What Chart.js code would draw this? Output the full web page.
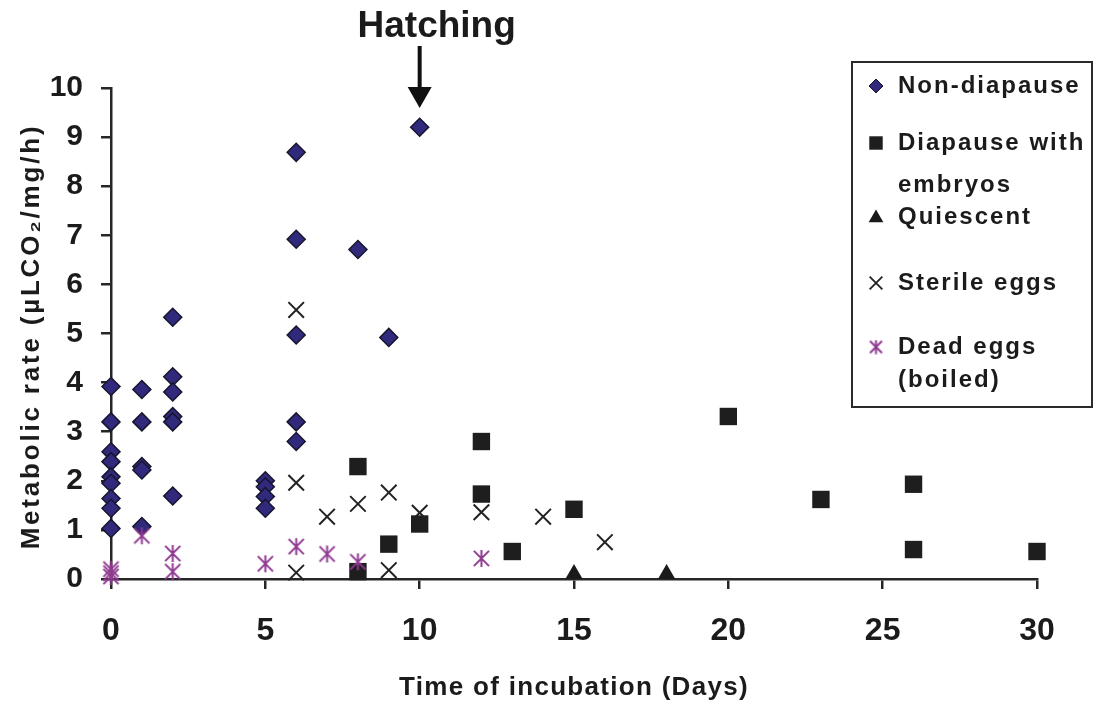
<!DOCTYPE html>
<html>
<head>
<meta charset="utf-8">
<title>Metabolic rate during incubation</title>
<script src="https://cdn.jsdelivr.net/npm/chart.js@4.4.1/dist/chart.umd.min.js"></script>
<style>
  html, body { margin: 0; padding: 0; background: #fff; }
  #wrap { width: 1094px; height: 704px; }
</style>
</head>
<body>
<div id="wrap"><canvas id="rateChart" width="1094" height="704"></canvas></div>
<script>
// incubation day (x) and metabolic rate in µL CO2 / mg / h (y) for each egg group
const nonDiapauseDays  = [0, 0, 0, 0, 0, 0, 0, 0, 0, 1, 1, 1, 1, 1, 2, 2, 2, 2, 2, 2, 5, 5, 5, 5, 6, 6, 6, 6, 6, 8, 9, 10];
const nonDiapauseRates = [3.92, 3.2, 2.59, 2.39, 2.08, 1.95, 1.64, 1.44, 1.03,
                          3.86, 3.2, 2.29, 2.22, 1.07,
                          5.33, 4.12, 3.81, 3.31, 3.2, 1.69,
                          2.0, 1.88, 1.68, 1.44,
                          8.69, 6.92, 4.97, 3.2, 2.8,
                          6.71, 4.92, 9.2];

const diapauseDays  = [8, 8, 9, 10, 12, 12, 13, 15, 20, 23, 26, 26, 30];
const diapauseRates = [2.29, 0.15, 0.71, 1.12, 2.8, 1.73, 0.56, 1.42, 3.31, 1.62, 1.93, 0.6, 0.56];

const quiescentDays  = [15, 18];
const quiescentRates = [0.1, 0.1];

const sterileDays  = [6, 6, 6, 7, 8, 9, 9, 10, 12, 14, 16];
const sterileRates = [5.48, 1.96, 0.13, 1.27, 1.53, 1.76, 0.18, 1.35, 1.36, 1.27, 0.75];

const deadDays  = [0, 0, 0, 1, 2, 2, 5, 6, 7, 8, 12];
const deadRates = [0.2, 0.12, 0.05, 0.88, 0.52, 0.15, 0.31, 0.66, 0.51, 0.35, 0.42];

const xTicks = [0, 5, 10, 15, 20, 25, 30];
const yTicks = [0, 1, 2, 3, 4, 5, 6, 7, 8, 9, 10];
const hatchDay = 10;

const FONT = "'Liberation Sans', Arial, Helvetica, sans-serif";
const INK = "#1b1b1b";
const AXIS = "#262626";
const DIAMOND_FILL = "#30297c";
const DIAMOND_EDGE = "#17162c";
const DEAD_PURPLE = "#8f3a91";

function toPoints(days, rates) {
  return days.map((d, i) => ({ x: d, y: rates[i] }));
}

// asterisk marker: an X with a vertical bar through it
function makeAsterisk(size, color) {
  const c = document.createElement("canvas");
  c.width = size;
  c.height = size;
  const g = c.getContext("2d");
  const m = size / 2;
  const a = size * 0.4;
  g.strokeStyle = color;
  g.lineWidth = 2;
  g.lineCap = "butt";
  g.beginPath();
  g.moveTo(m - a, m - a); g.lineTo(m + a, m + a);
  g.moveTo(m + a, m - a); g.lineTo(m - a, m + a);
  g.moveTo(m, m - a - 1); g.lineTo(m, m + a + 1);
  g.stroke();
  return c;
}

const asteriskBig = makeAsterisk(19, DEAD_PURPLE);
const asteriskSmall = makeAsterisk(15, DEAD_PURPLE);

function drawMarker(ctx, style, r, fill, stroke, bw, x, y) {
  ctx.save();
  ctx.fillStyle = fill;
  ctx.strokeStyle = stroke;
  ctx.lineWidth = bw;
  Chart.helpers.drawPoint(ctx, { pointStyle: style, radius: r, rotation: 0, borderWidth: bw }, x, y);
  ctx.restore();
}

// boxed legend on the right, text spaced out like the original figure
const sideLegend = {
  id: "sideLegend",
  afterDraw(chart) {
    const ctx = chart.ctx;
    ctx.save();
    ctx.strokeStyle = "#2a2a2a";
    ctx.lineWidth = 2;
    ctx.strokeRect(852, 62, 240, 345);

    const items = [
      { lines: ["Non-diapause"], y: 86, draw: (x, y) => drawMarker(ctx, "rectRot", 7, DIAMOND_FILL, DIAMOND_EDGE, 1, x, y) },
      { lines: ["Diapause with", "embryos"], y: 143, gap: 42, draw: (x, y) => drawMarker(ctx, "rect", 9.5, "#1e1e1e", "#1e1e1e", 0, x, y) },
      { lines: ["Quiescent"], y: 217, draw: (x, y) => drawMarker(ctx, "triangle", 8.5, "#1a1a1a", "#1a1a1a", 0, x, y + 1) },
      { lines: ["Sterile eggs"], y: 283, draw: (x, y) => drawMarker(ctx, "crossRot", 9, "#222", "#222", 1.8, x, y) },
      { lines: ["Dead eggs", "(boiled)"], y: 347, gap: 33, draw: (x, y) => drawMarker(ctx, asteriskSmall, 7, DEAD_PURPLE, DEAD_PURPLE, 0, x, y) }
    ];

    ctx.fillStyle = INK;
    ctx.font = "bold 24px " + FONT;
    ctx.textAlign = "left";
    ctx.textBaseline = "middle";
    ctx.letterSpacing = "2px";
    items.forEach(it => {
      it.draw(876, it.y);
      it.lines.forEach((t, i) => ctx.fillText(t, 898, it.y + i * (it.gap || 0)));
    });
    ctx.restore();
  }
};

// axis titles and the hatching arrow
const annotations = {
  id: "annotations",
  afterDraw(chart) {
    const ctx = chart.ctx;
    const area = chart.chartArea;
    const xs = chart.scales.x;
    const ys = chart.scales.y;
    ctx.save();
    ctx.fillStyle = INK;
    ctx.textAlign = "center";
    ctx.textBaseline = "middle";

    ctx.font = "bold 26px " + FONT;
    ctx.letterSpacing = "1.3px";
    ctx.fillText("Time of incubation (Days)", (area.left + area.right) / 2, 688);

    ctx.save();
    ctx.translate(32, (area.top + area.bottom) / 2 + 3);
    ctx.rotate(-Math.PI / 2);
    ctx.letterSpacing = "2.8px";
    ctx.fillText("Metabolic rate (µLCO\u2082/mg/h)", 0, 0);
    ctx.restore();

    const hx = xs.getPixelForValue(hatchDay);
    ctx.letterSpacing = "0px";
    ctx.font = "bold 37px " + FONT;
    ctx.fillText("Hatching", hx + 17, 27);

    const tipY = ys.getPixelForValue(10) + 20;
    ctx.strokeStyle = "#111";
    ctx.fillStyle = "#111";
    ctx.lineWidth = 4;
    ctx.beginPath();
    ctx.moveTo(hx, 46);
    ctx.lineTo(hx, tipY - 18);
    ctx.stroke();
    ctx.beginPath();
    ctx.moveTo(hx - 12, tipY - 21);
    ctx.lineTo(hx + 12, tipY - 21);
    ctx.lineTo(hx, tipY);
    ctx.closePath();
    ctx.fill();
    ctx.restore();
  }
};

new Chart(document.getElementById("rateChart"), {
  type: "scatter",
  data: {
    datasets: [
      {
        label: "Non-diapause",
        data: toPoints(nonDiapauseDays, nonDiapauseRates),
        pointStyle: "rectRot",
        pointRadius: 9,
        pointBackgroundColor: DIAMOND_FILL,
        pointBorderColor: DIAMOND_EDGE,
        pointBorderWidth: 1.5,
        clip: false,
        order: 5
      },
      {
        label: "Diapause with embryos",
        data: toPoints(diapauseDays, diapauseRates),
        pointStyle: "rect",
        pointRadius: 12.3,
        pointBackgroundColor: "#1e1e1e",
        pointBorderColor: "#1e1e1e",
        pointBorderWidth: 0,
        clip: false,
        order: 4
      },
      {
        label: "Quiescent",
        data: toPoints(quiescentDays, quiescentRates),
        pointStyle: "triangle",
        pointRadius: 10,
        pointBackgroundColor: "#1a1a1a",
        pointBorderColor: "#1a1a1a",
        pointBorderWidth: 0,
        clip: false,
        order: 3
      },
      {
        label: "Sterile eggs",
        data: toPoints(sterileDays, sterileRates),
        pointStyle: "crossRot",
        pointRadius: 11,
        pointBorderColor: "#222",
        pointBorderWidth: 2,
        clip: false,
        order: 2
      },
      {
        label: "Dead eggs (boiled)",
        data: toPoints(deadDays, deadRates),
        pointStyle: asteriskBig,
        pointRadius: 9,
        pointBackgroundColor: DEAD_PURPLE,
        pointBorderColor: DEAD_PURPLE,
        clip: false,
        order: 1
      }
    ]
  },
  options: {
    responsive: false,
    animation: false,
    events: [],
    layout: { padding: { left: 0, top: 88, right: 57, bottom: 0 } },
    plugins: {
      legend: { display: false },
      tooltip: { enabled: false }
    },
    scales: {
      x: {
        type: "linear",
        min: 0,
        max: 30,
        afterBuildTicks: s => { s.ticks = xTicks.map(v => ({ value: v })); },
        afterFit: s => { s.height = 125; },
        grid: { drawOnChartArea: false, drawTicks: true, tickLength: 10, color: AXIS, lineWidth: 2.5 },
        border: { color: AXIS, width: 2.5 },
        ticks: {
          color: INK,
          font: { family: FONT, size: 32, weight: "bold" },
          padding: 23,
          maxRotation: 0,
          autoSkip: false
        }
      },
      y: {
        type: "linear",
        min: 0,
        max: 10,
        afterBuildTicks: s => { s.ticks = yTicks.map(v => ({ value: v })); },
        afterFit: s => { s.width = 111; },
        grid: { drawOnChartArea: false, drawTicks: true, tickLength: 10, color: AXIS, lineWidth: 2.5 },
        border: { color: AXIS, width: 2.5 },
        ticks: {
          color: INK,
          font: { family: FONT, size: 30, weight: "bold" },
          padding: 18,
          autoSkip: false
        }
      }
    }
  },
  plugins: [annotations, sideLegend]
});
</script>
</body>
</html>
